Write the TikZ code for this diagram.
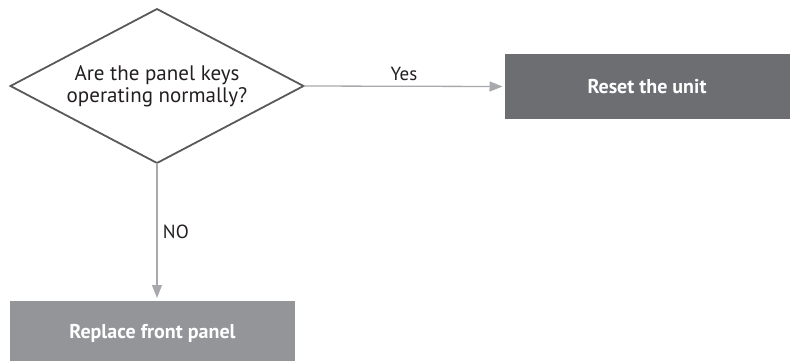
\documentclass[tikz,border=0pt]{standalone}
\usepackage{fontspec}
\setmainfont{PT Sans}
\usetikzlibrary{arrows.meta,positioning,shapes.geometric}
\definecolor{outline}{HTML}{58595B}
\definecolor{darkbox}{HTML}{6D6E71}
\definecolor{lightbox}{HTML}{939598}
\definecolor{arrowgray}{HTML}{A7A9AC}
\definecolor{ink}{HTML}{231F20}

\begin{document}
\begin{tikzpicture}[x=1pt, y=-1pt,
  decision/.style={draw=outline, line width=1.8pt, diamond, aspect=1.9,
    minimum width=293pt, minimum height=154pt, inner sep=0pt, outer sep=0pt,
    align=center, text=ink, font=\fontsize{21}{22}\selectfont},
  action/.style={rectangle, minimum width=285pt, minimum height=65pt,
    inner sep=0pt, outer sep=0pt, text=white,
    font=\fontsize{20}{22}\selectfont\bfseries},
  flow/.style={draw=arrowgray, line width=1.3pt,
    -{Triangle[length=13pt, width=10pt]}},
  answer/.style={text=ink, font=\fontsize{19}{21}\selectfont}]
\useasboundingbox (0,0) rectangle (790,360);

\node[decision] (keys) at (157,86) {Are the panel keys\\operating normally?};
\node[action, fill=darkbox] (reset) at (647,86.5) {Reset the unit};
\node[action, fill=lightbox] (replace) at (152.5,333.5) {Replace front panel};

\draw[flow, shorten >=2pt] (keys.east) -- (reset.west)
  node[midway, above=2pt, answer] {Yes};
\draw[flow, shorten >=3pt] (keys.south) -- (replace.north -| keys.south)
  node[midway, right=2pt, answer] {NO};
\end{tikzpicture}
\end{document}
